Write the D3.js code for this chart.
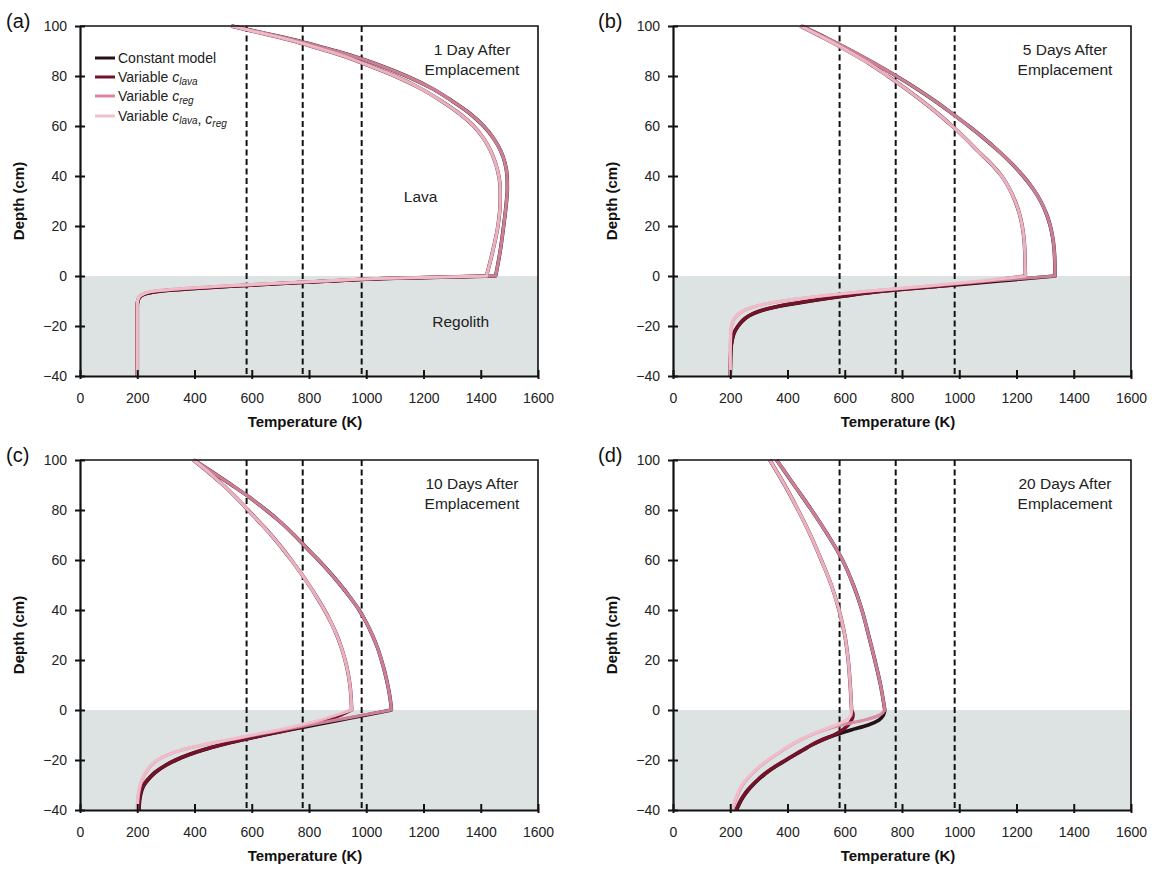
<!DOCTYPE html>
<html>
<head>
<meta charset="utf-8">
<script src="https://cdn.jsdelivr.net/npm/d3@7/dist/d3.min.js"></script>
<style>
  html, body { margin: 0; padding: 0; background: #ffffff; }
  svg { display: block; font-family: "Liberation Sans", Arial, Helvetica, sans-serif; }
</style>
</head>
<body>
<svg id="chart" width="1158" height="870"></svg>
<script>
// ---------------- DATA ----------------
const xTicks = [0, 200, 400, 600, 800, 1000, 1200, 1400, 1600];
const yTicks = [-40, -20, 0, 20, 40, 60, 80, 100];
const dashedTemps = [582, 778, 984];
const seriesNames = ["Constant model", "Variable c_lava", "Variable c_reg", "Variable c_lava, c_reg"];

// Panel (a) – 1 day
const depthA = [100, 98, 96, 94, 92, 90, 87, 85, 80, 75, 70, 65, 60, 55, 50, 45, 40, 35, 30, 20, 10, 0,
                -1, -2, -3, -4, -5, -6, -7, -8, -9, -10, -12, -15, -40];
const constA = [530, 610, 690, 765, 830, 895, 980, 1030, 1140, 1230, 1300, 1362, 1410, 1445, 1470, 1485, 1492, 1493, 1490, 1480, 1468, 1452,
                1070, 875, 700, 540, 400, 285, 232, 213, 206, 202, 200, 200, 200];
const clavaA = [528, 600, 675, 745, 805, 865, 945, 990, 1100, 1190, 1262, 1325, 1375, 1410, 1435, 1452, 1463, 1468, 1468, 1460, 1442, 1420,
                1060, 875, 700, 540, 400, 285, 232, 213, 206, 202, 200, 200, 200];
const cregA  = [530, 610, 690, 765, 830, 895, 980, 1030, 1140, 1230, 1300, 1362, 1410, 1445, 1470, 1485, 1492, 1493, 1490, 1480, 1468, 1452,
                1045, 850, 670, 500, 360, 260, 224, 209, 204, 201, 200, 200, 200];
const bothA  = [528, 600, 675, 745, 805, 865, 945, 990, 1100, 1190, 1262, 1325, 1375, 1410, 1435, 1452, 1463, 1468, 1468, 1460, 1442, 1420,
                1035, 850, 670, 500, 360, 260, 224, 209, 204, 201, 200, 200, 200];

// Panel (b) – 5 days
const depthB = [100, 95, 90, 85, 80, 75, 70, 65, 60, 55, 50, 45, 40, 35, 30, 25, 20, 15, 10, 5, 0,
                -1, -2, -4, -6, -8, -10, -12, -14, -16, -18, -20, -22, -25, -30, -40];
const constB = [450, 540, 625, 705, 780, 850, 915, 975, 1033, 1087, 1137, 1183, 1223, 1257, 1284, 1304, 1318, 1327, 1332, 1334, 1335,
                1237, 1140, 940, 740, 600, 480, 375, 305, 265, 243, 228, 217, 208, 202, 200];
const clavaB = [445, 530, 610, 685, 750, 812, 870, 925, 975, 1022, 1065, 1110, 1148, 1175, 1195, 1210, 1220, 1226, 1229, 1230, 1231,
                1165, 1105, 935, 735, 596, 477, 372, 302, 263, 241, 227, 216, 207, 202, 200];
const cregB  = [450, 540, 625, 705, 780, 850, 915, 975, 1033, 1087, 1137, 1183, 1223, 1257, 1284, 1304, 1318, 1327, 1332, 1334, 1335,
                1215, 1100, 900, 690, 520, 382, 292, 245, 222, 210, 205, 202, 201, 200, 200];
const bothB  = [445, 530, 610, 685, 750, 812, 870, 925, 975, 1022, 1065, 1110, 1148, 1175, 1195, 1210, 1220, 1226, 1229, 1230, 1231,
                1150, 1070, 890, 682, 515, 378, 290, 244, 221, 209, 204, 202, 201, 200, 200];

// Panel (c) – 10 days
const depthC = [100, 95, 90, 85, 80, 75, 70, 65, 60, 55, 50, 45, 40, 35, 30, 25, 20, 15, 10, 5, 0,
                -2, -4, -6, -8, -10, -12, -14, -16, -18, -20, -22, -25, -28, -30, -35, -40];
const constC = [398, 465, 530, 593, 650, 702, 748, 790, 833, 873, 910, 944, 975, 1000, 1021, 1039, 1053, 1065, 1075, 1083, 1088,
                1000, 910, 820, 730, 645, 565, 492, 430, 378, 336, 302, 263, 237, 224, 210, 206];
const clavaC = [396, 450, 500, 545, 587, 628, 668, 704, 738, 770, 800, 828, 854, 877, 897, 913, 926, 936, 943, 947, 949,
                910, 860, 800, 725, 642, 563, 490, 428, 376, 334, 300, 261, 235, 222, 208, 205];
const cregC  = [398, 465, 530, 593, 650, 702, 748, 790, 833, 873, 910, 944, 975, 1000, 1021, 1039, 1053, 1065, 1075, 1083, 1088,
                990, 895, 800, 705, 610, 520, 430, 355, 305, 272, 250, 230, 217, 211, 203, 200];
const bothC  = [396, 450, 500, 545, 587, 628, 668, 704, 738, 770, 800, 828, 854, 877, 897, 913, 926, 936, 943, 947, 949,
                895, 840, 770, 690, 600, 515, 428, 353, 304, 271, 249, 229, 216, 210, 202, 200];

// Panel (d) – 20 days
const depthD = [100, 90, 80, 70, 60, 50, 40, 30, 20, 10, 0,
                -2, -4, -6, -8, -10, -12, -14, -16, -18, -20, -22, -24, -26, -28, -30, -32, -35, -40];
const constD = [362, 423, 484, 541, 592, 630, 660, 683, 705, 725, 740,
                735, 720, 682, 622, 566, 521, 485, 455, 425, 396, 367, 340, 317, 297, 279, 263, 244, 222];
const clavaD = [338, 390, 437, 480, 518, 553, 580, 600, 612, 619, 624,
                629, 624, 612, 592, 562, 519, 483, 453, 423, 394, 365, 338, 315, 295, 277, 261, 242, 220];
const cregD  = [362, 423, 484, 541, 592, 630, 660, 683, 705, 725, 740,
                722, 670, 590, 528, 482, 445, 413, 385, 358, 333, 310, 290, 272, 256, 243, 233, 222, 207];
const bothD  = [338, 390, 437, 480, 518, 553, 580, 600, 612, 619, 624,
                622, 605, 570, 522, 479, 443, 411, 383, 356, 331, 308, 288, 270, 254, 241, 231, 220, 205];

const panelLabels = ["(a)", "(b)", "(c)", "(d)"];
const panelTitles = [["1 Day After", "Emplacement"], ["5 Days After", "Emplacement"],
                     ["10 Days After", "Emplacement"], ["20 Days After", "Emplacement"]];

// ---------------- STYLE / LAYOUT ----------------
const colors = ["#241015", "#72132a", "#d9879f", "#f0c0cc"];
const widths = [3.6, 3.6, 3.2, 3.2];
const opac = [1, 1, 0.93, 0.93];
const shadeColor = "#dde3e3";

const panels = [
  { x0: 80,  x1: 538,  y0: 26,  y1: 376, lx: 6,   depth: depthA, series: [constA, clavaA, cregA, bothA], legend: true, lava: true },
  { x0: 673, x1: 1131, y0: 26,  y1: 376, lx: 598, depth: depthB, series: [constB, clavaB, cregB, bothB] },
  { x0: 80,  x1: 538,  y0: 460, y1: 810, lx: 6,   depth: depthC, series: [constC, clavaC, cregC, bothC] },
  { x0: 673, x1: 1131, y0: 460, y1: 810, lx: 598, depth: depthD, series: [constD, clavaD, cregD, bothD] }
];

const svg = d3.select("#chart");

panels.forEach((p, i) => {
  const x = d3.scaleLinear().domain([0, 1600]).range([p.x0, p.x1]);
  const y = d3.scaleLinear().domain([-40, 100]).range([p.y1, p.y0]);
  const g = svg.append("g");

  const clipId = "clip" + i;
  svg.append("clipPath").attr("id", clipId)
    .append("rect").attr("x", p.x0).attr("y", p.y0 - 2)
    .attr("width", p.x1 - p.x0).attr("height", p.y1 - p.y0 + 2);

  // regolith shading
  g.append("rect")
    .attr("x", x(0)).attr("y", y(0))
    .attr("width", x(1600) - x(0)).attr("height", y(-40) - y(0))
    .attr("fill", shadeColor);

  // dashed reference temperatures
  g.selectAll(".dash").data(dashedTemps).enter().append("line")
    .attr("x1", d => x(d)).attr("x2", d => x(d))
    .attr("y1", y(100)).attr("y2", y(-40))
    .attr("stroke", "#111").attr("stroke-width", 2)
    .attr("stroke-dasharray", "6,3.5");

  // curves: lava part and regolith part joined with a sharp corner at depth 0
  const line = d3.line()
    .x(d => x(d[1])).y(d => y(d[0]))
    .curve(d3.curveMonotoneY);
  const cg = g.append("g").attr("clip-path", `url(#${clipId})`);
  p.series.forEach((s, k) => {
    const pts = p.depth.map((dv, j) => [dv, s[j]]);
    const lava = pts.filter(d => d[0] >= 0);
    const reg = pts.filter(d => d[0] <= 0);
    const dPath = line(lava) + line(reg).replace(/^M/, "L");
    cg.append("path")
      .attr("d", dPath)
      .attr("fill", "none")
      .attr("stroke", colors[k])
      .attr("stroke-width", widths[k])
      .attr("stroke-opacity", opac[k])
      .attr("stroke-linejoin", "round");
  });

  // frame (top & right)
  g.append("path")
    .attr("d", `M${x(0)},${y(100)}H${x(1600)}V${y(-40)}`)
    .attr("fill", "none").attr("stroke", "#111").attr("stroke-width", 1.6);

  // axes
  const ax = d3.axisBottom(x).tickValues(xTicks).tickFormat(d3.format("d"))
    .tickSizeInner(5).tickSizeOuter(0).tickPadding(12);
  const gx = g.append("g").attr("transform", `translate(0,${y(-40)})`).call(ax);
  gx.selectAll(".tick line").attr("y1", -6).attr("y2", 3).attr("stroke", "#111").attr("stroke-width", 2);
  gx.select(".domain").attr("stroke", "#111").attr("stroke-width", 2.2);
  gx.selectAll(".tick text").attr("font-size", 14).attr("fill", "#222")
    .attr("font-family", "'Liberation Sans', Arial, sans-serif");

  const ay = d3.axisLeft(y).tickValues(yTicks).tickFormat(d3.format("d"))
    .tickSizeInner(5).tickSizeOuter(0).tickPadding(8);
  const gy = g.append("g").attr("transform", `translate(${x(0)},0)`).call(ay);
  gy.selectAll(".tick line").attr("x1", -5).attr("x2", 5).attr("stroke", "#111").attr("stroke-width", 2);
  gy.select(".domain").attr("stroke", "#111").attr("stroke-width", 2.2);
  gy.selectAll(".tick text").attr("font-size", 14).attr("fill", "#222")
    .attr("font-family", "'Liberation Sans', Arial, sans-serif");

  // axis titles
  g.append("text")
    .attr("x", (p.x0 + p.x1) / 2 - 4).attr("y", p.y1 + 51)
    .attr("text-anchor", "middle").attr("font-size", 15).attr("font-weight", "bold").attr("fill", "#111")
    .text("Temperature (K)");
  g.append("text")
    .attr("transform", `translate(${p.x0 - 56},${(p.y0 + p.y1) / 2}) rotate(-90)`)
    .attr("text-anchor", "middle").attr("font-size", 15).attr("font-weight", "bold").attr("fill", "#111")
    .text("Depth (cm)");

  // panel label
  g.append("text").attr("x", p.lx).attr("y", p.y0 + 2)
    .attr("font-size", 20).attr("fill", "#111").text(panelLabels[i]);

  // panel title
  const t = g.append("text").attr("text-anchor", "middle").attr("font-size", 15.5).attr("fill", "#222");
  panelTitles[i].forEach((ln, j) => {
    t.append("tspan").attr("x", p.x1 - 66).attr("y", p.y0 + 29 + j * 20).text(ln);
  });

  if (p.lava) {
    g.append("text").attr("x", x(1190)).attr("y", y(30) + 1)
      .attr("text-anchor", "middle").attr("font-size", 15.5).attr("fill", "#222").text("Lava");
    g.append("text").attr("x", x(1330)).attr("y", y(-20.5))
      .attr("text-anchor", "middle").attr("font-size", 15.5).attr("fill", "#222").text("Regolith");
  }

  if (p.legend) {
    const lg = g.append("g");
    const rows = [58, 77, 96, 116];
    seriesNames.forEach((nm, k) => {
      lg.append("line").attr("x1", 95).attr("x2", 115).attr("y1", rows[k]).attr("y2", rows[k])
        .attr("stroke", colors[k]).attr("stroke-width", 3);
      const tx = lg.append("text").attr("x", 118).attr("y", rows[k] + 5)
        .attr("font-size", 14).attr("fill", "#222");
      if (k === 0) { tx.text(nm); return; }
      tx.append("tspan").text("Variable ");
      const addC = (sub) => {
        tx.append("tspan").attr("font-style", "italic").text("c");
        tx.append("tspan").attr("font-style", "italic").attr("font-size", 10).attr("dy", 3).text(sub);
        tx.append("tspan").attr("dy", -3).text("");
      };
      if (k === 1) addC("lava");
      if (k === 2) addC("reg");
      if (k === 3) { addC("lava"); tx.append("tspan").text(", "); addC("reg"); }
    });
  }
});
</script>
</body>
</html>
